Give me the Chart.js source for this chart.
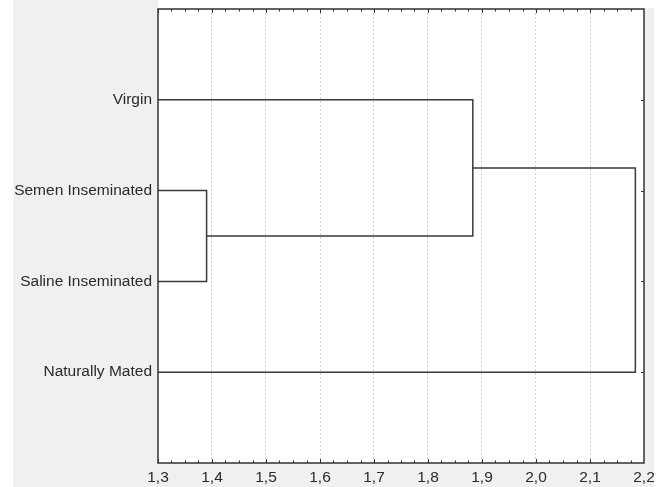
<!DOCTYPE html>
<html>
<head>
<meta charset="utf-8">
<script src="https://cdn.jsdelivr.net/npm/chart.js@4"></script>
<style>
  html, body { margin: 0; padding: 0; background: #fff; }
</style>
</head>
<body>
<canvas id="dendro" width="663" height="487"></canvas>
<script>
// leaves, top to bottom
const leaves = ['Virgin', 'Semen Inseminated', 'Saline Inseminated', 'Naturally Mated'];
const leafPos = [1, 2, 3, 4];
// linkage distances, and which nodes each merge joins (leaf index, or 'cN' for merge N)
const mergeDist = [1.39, 1.883, 2.184];
const mergeA = [1, 0, 'c1'];
const mergeB = [2, 'c0', 3];
const xTicks = [1.3, 1.4, 1.5, 1.6, 1.7, 1.8, 1.9, 2.0, 2.1, 2.2];

const xMin = xTicks[0], xMax = xTicks[xTicks.length - 1];
const lineColor = '#3a3a3a';
const textColor = '#2a2a2a';

// build the U shaped links from the merge table
const nodeY = {}, nodeX = {};
leaves.forEach((l, i) => { nodeY[i] = leafPos[i]; nodeX[i] = xMin; });
const datasets = mergeDist.map((d, i) => {
    const a = mergeA[i], b = mergeB[i];
    nodeY['c' + i] = (nodeY[a] + nodeY[b]) / 2;
    nodeX['c' + i] = d;
    return {
        data: [
            { x: nodeX[a], y: nodeY[a] },
            { x: d, y: nodeY[a] },
            { x: d, y: nodeY[b] },
            { x: nodeX[b], y: nodeY[b] }
        ],
        showLine: true,
        borderColor: lineColor,
        borderWidth: 1.5,
        pointRadius: 0,
        fill: false,
        tension: 0
    };
});

const frame = {
    id: 'frame',
    beforeDraw(chart) {
        const c = chart.ctx, a = chart.chartArea;
        c.save();
        c.fillStyle = '#fff';
        c.fillRect(0, 0, chart.width, chart.height);
        c.fillStyle = '#f0f0f0';
        c.fillRect(13, 0, a.right + 10 - 13, chart.height);
        c.fillStyle = '#fff';
        c.fillRect(a.left, 0, a.right + 10 - a.left, a.top - 1);
        c.fillRect(a.left, a.top, a.right - a.left, a.bottom - a.top);
        c.restore();
    },
    afterDraw(chart) {
        const c = chart.ctx, a = chart.chartArea;
        const xs = chart.scales.x, ys = chart.scales.y;
        c.save();
        c.strokeStyle = '#333';
        c.lineWidth = 1.5;
        c.strokeRect(a.left, a.top, a.right - a.left, a.bottom - a.top);
        c.lineWidth = 1;
        c.beginPath();
        for (let i = 0; i < xTicks.length - 1; i++) {
            for (let k = 0; k < 4; k++) {
                const v = xTicks[i] + (xTicks[i + 1] - xTicks[i]) * k / 4;
                const px = Math.round(xs.getPixelForValue(v)) + 0.5;
                const len = k === 0 ? 4 : 2.5;
                c.moveTo(px, a.bottom); c.lineTo(px, a.bottom - len);
                c.moveTo(px, a.top); c.lineTo(px, a.top + len);
            }
        }
        leafPos.forEach(v => {
            const py = Math.round(ys.getPixelForValue(v)) + 0.5;
            c.moveTo(a.right, py); c.lineTo(a.right - 3, py);
        });
        c.stroke();
        c.restore();
    }
};

new Chart(document.getElementById('dendro').getContext('2d'), {
    type: 'scatter',
    data: { datasets: datasets },
    options: {
        responsive: false,
        animation: false,
        layout: { padding: { top: 9, right: 19, left: 0, bottom: 0 } },
        plugins: { legend: { display: false }, tooltip: { enabled: false } },
        scales: {
            x: {
                type: 'linear',
                min: xMin,
                max: xMax,
                afterBuildTicks: s => { s.ticks = xTicks.map(v => ({ value: v })); },
                afterFit: s => { s.height = 24; s.paddingLeft = 0; s.paddingRight = 0; },
                grid: {
                    drawTicks: false,
                    color: ctx => (ctx.tick && (ctx.tick.value === xMin || ctx.tick.value === xMax)) ? 'rgba(0,0,0,0)' : '#d2d2d2',
                    lineWidth: 1
                },
                border: { display: false, dash: [2, 2] },
                ticks: {
                    padding: 5,
                    color: textColor,
                    font: { family: 'Liberation Sans', size: 15.5 },
                    maxRotation: 0,
                    autoSkip: false,
                    callback: v => Number(v).toFixed(1).replace('.', ',')
                }
            },
            y: {
                type: 'linear',
                min: 0,
                max: 5,
                reverse: true,
                afterBuildTicks: s => { s.ticks = leafPos.map(v => ({ value: v })); },
                afterFit: s => { s.width = 158; s.paddingTop = 0; s.paddingBottom = 0; },
                grid: { display: false, drawTicks: false },
                border: { display: false },
                ticks: {
                    padding: 6,
                    color: textColor,
                    font: { family: 'Liberation Sans', size: 15.5 },
                    autoSkip: false,
                    callback: v => leaves[leafPos.indexOf(v)]
                }
            }
        }
    },
    plugins: [frame]
});
</script>
</body>
</html>
